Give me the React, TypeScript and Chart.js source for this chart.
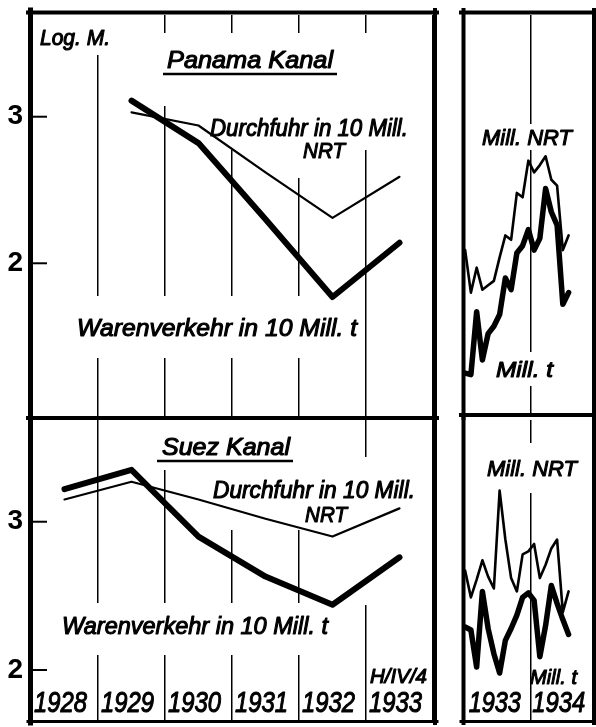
import React, { useEffect, useRef } from "react";
import { Chart, registerables } from "chart.js";

Chart.register(...registerables);

// ---------------- data (Log. M.) ----------------
const YEARS = ["1928", "1929", "1930", "1931", "1932", "1933"];
// Panama Kanal
const PANAMA_GOODS = [null, 3.11, 2.82, 2.3, 1.77, 2.14]; // Warenverkehr in 10 Mill. t
const PANAMA_TRANSIT = [null, 3.03, 2.94, 2.62, 2.31, 2.59]; // Durchfuhr in 10 Mill. NRT
// Suez Kanal
const SUEZ_GOODS = [3.22, 3.35, 2.9, 2.63, 2.44, 2.76];
const SUEZ_TRANSIT = [3.15, 3.27, 3.15, 3.02, 2.9, 3.09];

const MONTHS = [
  "I 1933", "II 1933", "III 1933", "IV 1933", "V 1933", "VI 1933", "VII 1933", "VIII 1933", "IX 1933",
  "X 1933", "XI 1933", "XII 1933", "I 1934", "II 1934", "III 1934", "IV 1934", "V 1934", "VI 1934", "VII 1934",
];
const PANAMA_M_NRT = [2.09, 1.8, 1.97, 1.82, 1.85, 1.88, 2.04, 2.19, 2.16, 2.48, 2.45, 2.7, 2.62, 2.67, 2.73, 2.57, 2.53, 2.09, 2.19];
const PANAMA_M_T = [1.25, 1.24, 1.67, 1.34, 1.52, 1.57, 1.65, 1.9, 1.82, 2.07, 2.12, 2.23, 2.09, 2.17, 2.51, 2.35, 2.26, 1.72, 1.8];
const SUEZ_M_NRT = [2.67, 2.49, 2.61, 2.74, 2.63, 2.55, 3.21, 2.88, 2.62, 2.53, 2.78, 2.8, 2.85, 2.62, 2.71, 2.82, 2.88, 2.39, 2.53];
const SUEZ_M_T = [2.29, 2.27, 2.02, 2.53, 2.28, 2.11, 1.98, 2.2, 2.28, 2.37, 2.49, 2.52, 2.47, 2.09, 2.3, 2.57, 2.45, 2.34, 2.24];
const Y_TICKS = [2, 3];
const PERIOD_YEARS = ["1933", "1934"];

// ---------------- layout / style ----------------
const TOP_RANGE = { min: 0.958, max: 3.694 };
const BOT_RANGE = { min: 1.663, max: 3.686 };
const FAMILY = '"Liberation Sans", Arial, sans-serif';

type Lbl = {
  t: string; x: number; y: number; size: number; w?: number;
  center?: boolean; clear?: number[][]; ul?: number[];
};
type Seg = number[];
interface PanelSpec {
  ox: number; oy: number; w: number; h: number;
  pad: { left: number; top: number; right: number; bottom: number };
  range: { min: number; max: number };
  kind: "yearly" | "monthly";
  showY: boolean;
  datasets: { data: (number | null)[]; width: number }[];
  labels: Lbl[];
  frame: Seg[];
  bottomLabels: boolean;
}

function drawText(ctx: CanvasRenderingContext2D, l: Lbl, ox: number, oy: number) {
  ctx.save();
  ctx.font = `italic ${l.size}px ${FAMILY}`;
  const m = ctx.measureText(l.t).width;
  const w = l.w ?? m;
  const sx = w / m;
  const left = (l.center ? l.x - w / 2 : l.x) - ox;
  ctx.translate(left, l.y - oy);
  ctx.scale(sx, 1);
  ctx.textAlign = "left";
  ctx.textBaseline = "alphabetic";
  ctx.fillStyle = "#000";
  ctx.strokeStyle = "#000";
  ctx.lineWidth = 1.1;
  ctx.lineJoin = "round";
  ctx.fillText(l.t, 0, 0);
  ctx.strokeText(l.t, 0, 0);
  ctx.restore();
  if (l.ul) {
    ctx.save();
    ctx.strokeStyle = "#000";
    ctx.lineWidth = 2.4;
    ctx.beginPath();
    ctx.moveTo(l.ul[0] - ox, l.ul[2] - oy);
    ctx.lineTo(l.ul[1] - ox, l.ul[2] - oy);
    ctx.stroke();
    ctx.restore();
  }
}

function makeDecor(p: PanelSpec) {
  return {
    id: "decor",
    beforeDatasetsDraw(chart: any) {
      const { ctx, chartArea: a } = chart;
      ctx.save();
      ctx.beginPath();
      ctx.rect(a.left, a.top, a.right - a.left, a.bottom - a.top);
      ctx.clip();
      ctx.fillStyle = "#fff";
      for (const l of p.labels)
        for (const c of l.clear || []) ctx.fillRect(c[0] - p.ox, c[1] - p.oy, c[2] - c[0], c[3] - c[1]);
      ctx.restore();
    },
    afterDraw(chart: any) {
      const { ctx, chartArea: a } = chart;
      const xs = chart.scales.x;
      const ys = chart.scales.y;
      if (p.showY) {
        ctx.save();
        ctx.strokeStyle = "#000";
        ctx.lineWidth = 2;
        for (const v of Y_TICKS) {
          const y = ys.getPixelForValue(v);
          ctx.beginPath();
          ctx.moveTo(a.left, y);
          ctx.lineTo(a.left + 16, y);
          ctx.stroke();
        }
        ctx.restore();
      }
      for (const l of p.labels) drawText(ctx, l, p.ox, p.oy);
      if (p.bottomLabels) {
        const y = 712;
        if (p.kind === "yearly") {
          YEARS.forEach((t, i) =>
            drawText(ctx, { t, x: xs.getPixelForValue(i) + p.ox - 4, y, size: 30, w: 53, center: true }, p.ox, p.oy)
          );
        } else {
          drawText(ctx, { t: PERIOD_YEARS[0], x: xs.getPixelForValue(5.5) + p.ox - 2, y, size: 30, w: 52, center: true }, p.ox, p.oy);
          drawText(ctx, { t: PERIOD_YEARS[1], x: xs.getPixelForValue(11.5) + p.ox + 1, y, size: 30, w: 53 }, p.ox, p.oy);
        }
      }
      ctx.save();
      ctx.strokeStyle = "#000";
      ctx.lineCap = "square";
      for (const s of p.frame) {
        ctx.lineWidth = s[4];
        ctx.beginPath();
        ctx.moveTo(s[0] - p.ox, s[1] - p.oy);
        ctx.lineTo(s[2] - p.ox, s[3] - p.oy);
        ctx.stroke();
      }
      ctx.restore();
    },
  };
}

function buildConfig(p: PanelSpec): any {
  const yearly = p.kind === "yearly";
  const datasets = p.datasets.map((d) => ({
    data: yearly ? d.data : d.data.map((v, i) => ({ x: i, y: v })),
    borderColor: "#000",
    backgroundColor: "#000",
    borderWidth: d.width,
    pointRadius: 0,
    tension: 0,
    fill: false,
    borderJoinStyle: "round",
    borderCapStyle: "round",
  }));
  const xScale = yearly
    ? {
        type: "category",
        offset: true,
        grid: { offset: true, color: "#000", lineWidth: 1.5, drawTicks: false },
        ticks: { display: false },
        border: { display: false },
      }
    : {
        type: "linear",
        min: -0.2,
        max: 22.25,
        afterBuildTicks: (s: any) => {
          s.ticks = [{ value: 11.5 }];
        },
        grid: { color: "#000", lineWidth: 1.5, drawTicks: false },
        ticks: { display: false },
        border: { display: false },
      };
  const yScale: any = {
    display: p.showY,
    min: p.range.min,
    max: p.range.max,
    afterBuildTicks: (s: any) => {
      s.ticks = Y_TICKS.map((v) => ({ value: v }));
    },
    grid: { display: false, drawTicks: false },
    border: { display: false },
    ticks: { color: "#000", padding: 8, font: { family: FAMILY, size: 28, weight: "bold" } },
  };
  if (p.showY) {
    yScale.afterFit = (s: any) => {
      s.width = 31;
      s.paddingTop = 0;
      s.paddingBottom = 0;
    };
  }
  return {
    type: "line",
    data: { labels: yearly ? YEARS : MONTHS, datasets },
    options: {
      responsive: false,
      maintainAspectRatio: false,
      animation: false,
      events: [],
      layout: { padding: p.pad },
      plugins: { legend: { display: false }, tooltip: { enabled: false }, title: { display: false } },
      scales: { x: xScale, y: yScale },
    },
    plugins: [makeDecor(p)],
  };
}

// frame coordinates
const LX = 30.5, RX = 435, TY = 12.5, DY = 418, BY = 721.5;
const LX2 = 463.5, RX2 = 594, DY2 = 415;

const PANELS: PanelSpec[] = [
  {
    ox: 0, oy: 0, w: 440, h: 421,
    pad: { left: 0, top: 15, right: 7, bottom: 5 },
    range: TOP_RANGE, kind: "yearly", showY: true, bottomLabels: false,
    datasets: [
      { data: PANAMA_TRANSIT, width: 2.2 },
      { data: PANAMA_GOODS, width: 6 },
    ],
    labels: [
      { t: "Log. M.", x: 40, y: 45, size: 22, w: 70, clear: [[34, 14, 114, 55]] },
      { t: "Panama Kanal", x: 167, y: 68, size: 23, w: 166, ul: [163, 337, 74], clear: [[150, 33, 372, 106]] },
      { t: "Durchfuhr in 10 Mill.", x: 210, y: 136, size: 23, w: 198, clear: [[200, 105, 415, 150]] },
      { t: "NRT", x: 303, y: 158, size: 22, w: 42, clear: [[285, 150, 352, 178]] },
      { t: "Warenverkehr in 10 Mill. t", x: 77, y: 336, size: 24, w: 280, clear: [[70, 296, 362, 358]] },
    ],
    frame: [
      [LX, 10, LX, 420, 5],
      [28, TY, 437, TY, 4],
      [RX, 10, RX, 420, 4],
      [28, DY, 437, DY, 4],
    ],
  },
  {
    ox: 0, oy: 414, w: 440, h: 313,
    pad: { left: 0, top: 6, right: 7, bottom: 7 },
    range: BOT_RANGE, kind: "yearly", showY: true, bottomLabels: true,
    datasets: [
      { data: SUEZ_TRANSIT, width: 2.2 },
      { data: SUEZ_GOODS, width: 6 },
    ],
    labels: [
      { t: "Suez Kanal", x: 162, y: 455, size: 23, w: 128, ul: [157, 293, 461], clear: [[150, 420, 300, 470]] },
      { t: "Durchfuhr in 10 Mill.", x: 213, y: 498, size: 23, w: 202, clear: [[205, 470, 420, 506], [360, 457, 372, 605]] },
      { t: "NRT", x: 305, y: 522, size: 22, w: 42, clear: [[225, 506, 352, 530]] },
      { t: "Warenverkehr in 10 Mill. t", x: 62, y: 634, size: 24, w: 266, clear: [[55, 603, 340, 655]] },
      { t: "H/IV/4", x: 370, y: 683, size: 20, w: 57 },
    ],
    frame: [
      [28, DY, 437, DY, 4],
      [LX, 416, LX, 723, 5],
      [RX, 416, RX, 723, 4],
      [28, BY, 437, BY, 3],
    ],
  },
  {
    ox: 456, oy: 0, w: 140, h: 421,
    pad: { left: 8, top: 15, right: 3, bottom: 5 },
    range: TOP_RANGE, kind: "monthly", showY: false, bottomLabels: false,
    datasets: [
      { data: PANAMA_M_NRT, width: 2.6 },
      { data: PANAMA_M_T, width: 5.5 },
    ],
    labels: [
      { t: "Mill. NRT", x: 482, y: 145, size: 22, w: 90, clear: [[478, 124, 576, 150]] },
      { t: "Mill. t", x: 496, y: 377, size: 22, w: 57, clear: [[490, 352, 560, 386]] },
    ],
    frame: [
      [LX2, 10, LX2, 418, 4],
      [461, TY, 596, TY, 4],
      [RX2, 10, RX2, 418, 4],
      [461, DY2, 596, DY2, 4],
    ],
  },
  {
    ox: 456, oy: 413, w: 140, h: 314,
    pad: { left: 8, top: 7, right: 3, bottom: 7 },
    range: BOT_RANGE, kind: "monthly", showY: false, bottomLabels: true,
    datasets: [
      { data: SUEZ_M_NRT, width: 2.6 },
      { data: SUEZ_M_T, width: 5.5 },
    ],
    labels: [
      { t: "Mill. NRT", x: 487, y: 476, size: 22, w: 90, clear: [[480, 443, 580, 493]] },
      { t: "Mill. t", x: 530, y: 684, size: 21, w: 47 },
    ],
    frame: [
      [461, DY2, 596, DY2, 4],
      [LX2, 413, LX2, 723, 4],
      [RX2, 413, RX2, 723, 4],
      [461, BY, 596, BY, 3],
    ],
  },
];

function Panel({ spec }: { spec: PanelSpec }) {
  const ref = useRef<HTMLCanvasElement>(null);
  useEffect(() => {
    const chart = new Chart(ref.current as HTMLCanvasElement, buildConfig(spec));
    return () => chart.destroy();
  }, [spec]);
  return (
    <canvas
      ref={ref}
      width={spec.w}
      height={spec.h}
      style={{ position: "absolute", left: spec.ox, top: spec.oy, width: spec.w, height: spec.h }}
    />
  );
}

export default function App() {
  return (
    <div style={{ position: "fixed", left: 0, top: 0, width: 596, height: 727, background: "#fff", overflow: "hidden" }}>
      {PANELS.map((p, i) => (
        <Panel key={i} spec={p} />
      ))}
    </div>
  );
}
